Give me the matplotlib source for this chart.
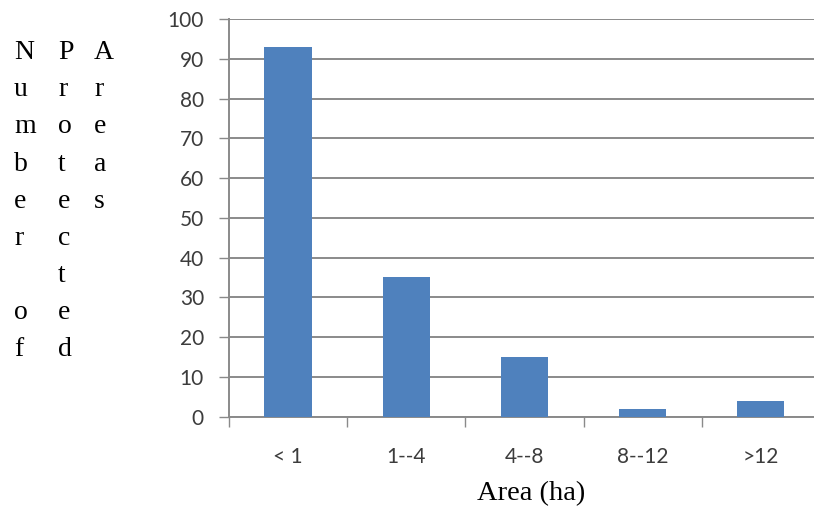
#!/usr/bin/env python3

import matplotlib
matplotlib.use('Agg')
import matplotlib.pyplot as plt
import numpy as np

###############################################
categories = ['< 1', '1--4', '4--8', '8--12', '>12']
counts = [93, 35, 15, 2, 4]

ylabel_words = ['Number\u00a0of', 'Protected', 'Areas']
xlabel = 'Area (ha)'

yticks = list(range(0, 101, 10))
###############################################

barColor = '#4F81BD'
gridColor = '#8a8a8a'
tickFont = 'Lato'
labelFont = 'Liberation Serif'


def stacked(word):
  # one letter per line, a space gives an empty row
  return '\n'.join(' ' if c in ' \u00a0' else c for c in word)


fig = plt.figure(figsize=(8.14, 5.08), dpi=100)
ax = fig.add_axes([0.2813, 0.1801, 0.7260, 0.7825])

x = np.arange(len(categories))
ax.bar(x, counts, width=0.4, color=barColor, zorder=3)

ax.set_xlim(-0.5, len(categories) - 0.5)
ax.set_ylim(0, 100)
ax.set_yticks(yticks)

# ticks between categories, labels in the middle
ax.set_xticks(np.arange(len(categories) + 1) - 0.5)
ax.set_xticklabels([])
ax.set_xticks(x, minor=True)
ax.set_xticklabels(categories, minor=True)
ax.tick_params(axis='x', which='minor', length=0, pad=22)
ax.tick_params(axis='x', which='major', length=7, width=1, color=gridColor, direction='out')
ax.tick_params(axis='y', length=7, width=1, color=gridColor, direction='out', pad=11)

for lab in ax.get_xticklabels(minor=True) + ax.get_yticklabels():
  lab.set_fontfamily(tickFont)
  lab.set_fontsize(15)
  lab.set_color('#3c3c3c')

ax.yaxis.grid(True, color=gridColor, linewidth=1.4, zorder=0)
ax.set_axisbelow(True)

#removing top and right borders
ax.spines['top'].set_visible(False)
ax.spines['right'].set_visible(False)
ax.spines['left'].set_color(gridColor)
ax.spines['bottom'].set_color(gridColor)
ax.spines['left'].set_linewidth(1.4)
ax.spines['bottom'].set_linewidth(1.4)

fig.text(0.652, 0.004, xlabel, ha='center', va='bottom',
         fontfamily=labelFont, fontsize=20.5, color='black')

colX = [0.0172, 0.0713, 0.1155]
for word, cx in zip(ylabel_words, colX):
  fig.text(cx, 0.921, stacked(word), ha='left', va='top', ma='left',
           fontfamily=labelFont, fontsize=20, color='black', linespacing=1.64)

plt.savefig('out.png', dpi=100, facecolor='white')
